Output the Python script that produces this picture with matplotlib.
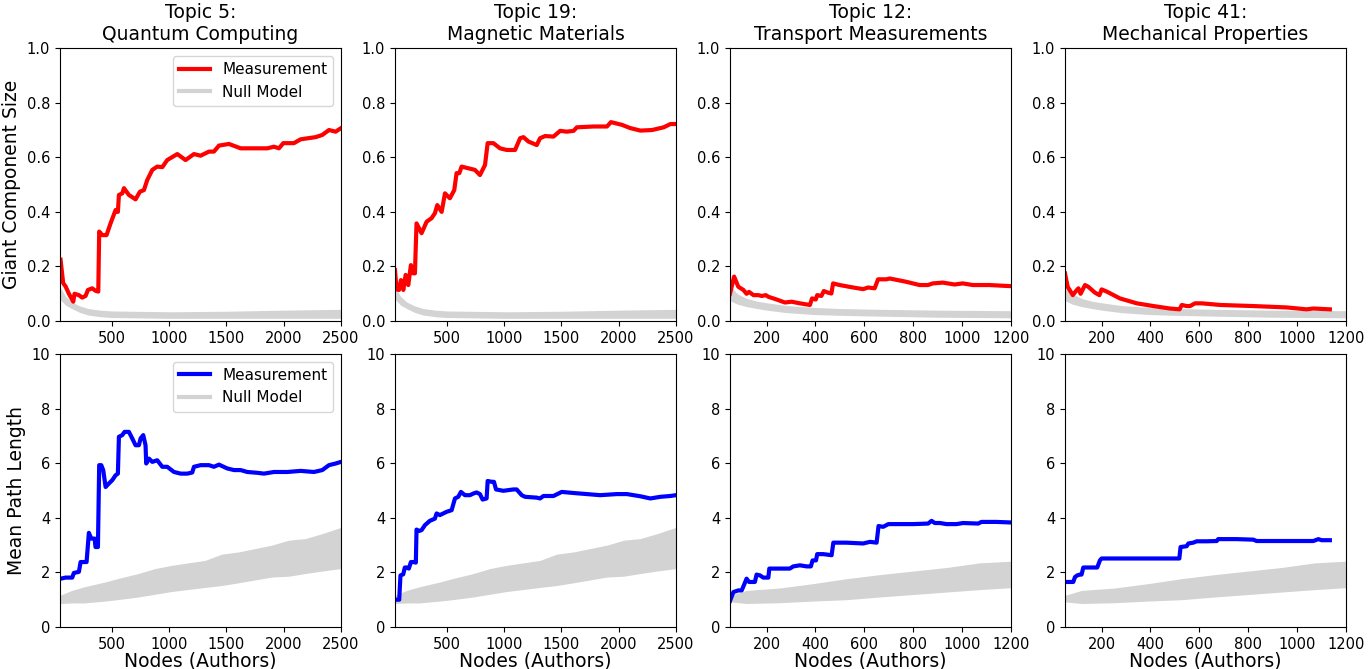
import numpy as np
import matplotlib.pyplot as plt

titles = ['Topic 5:\nQuantum Computing', 'Topic 19:\nMagnetic Materials',
          'Topic 12:\nTransport Measurements', 'Topic 41:\nMechanical Properties']
x_max = [2500, 2500, 1200, 1200]

# giant component size (measurement)
gc_x5 = [55, 78, 99, 128, 166, 177, 215, 244, 273, 294, 331, 360, 384, 392, 419, 456, 491, 535, 555, 564,
         593, 608, 651, 709, 747, 782, 811, 855, 898, 942, 985, 1073, 1145, 1218, 1276, 1349, 1392, 1436,
         1523, 1625, 1741, 1858, 1916, 1959, 1997, 2090, 2148, 2279, 2337, 2395, 2453, 2500]
gc_y5 = [0.225, 0.139, 0.127, 0.10, 0.071, 0.10, 0.095, 0.086, 0.092, 0.114, 0.12, 0.111, 0.108, 0.328,
         0.315, 0.315, 0.358, 0.407, 0.40, 0.462, 0.468, 0.487, 0.462, 0.446, 0.474, 0.48, 0.517, 0.554,
         0.566, 0.564, 0.59, 0.612, 0.59, 0.612, 0.606, 0.621, 0.621, 0.643, 0.649, 0.633, 0.633, 0.633,
         0.639, 0.633, 0.652, 0.652, 0.666, 0.674, 0.682, 0.70, 0.694, 0.707]

gc_x19 = [50, 64, 85, 102, 123, 143, 166, 189, 209, 224, 238, 282, 326, 369, 398, 419, 457, 486, 529, 567,
          587, 611, 631, 689, 747, 791, 835, 858, 908, 966, 1024, 1097, 1141, 1170, 1213, 1286, 1315, 1359,
          1432, 1490, 1548, 1607, 1636, 1781, 1898, 1933, 2029, 2102, 2189, 2291, 2393, 2451, 2500]
gc_y19 = [0.187, 0.116, 0.114, 0.15, 0.114, 0.169, 0.132, 0.205, 0.175, 0.175, 0.358, 0.322, 0.364, 0.377,
          0.395, 0.425, 0.40, 0.468, 0.45, 0.48, 0.542, 0.542, 0.566, 0.56, 0.554, 0.535, 0.572, 0.652,
          0.652, 0.633, 0.627, 0.627, 0.67, 0.674, 0.658, 0.645, 0.67, 0.678, 0.676, 0.697, 0.694, 0.697,
          0.71, 0.713, 0.713, 0.729, 0.719, 0.707, 0.698, 0.70, 0.71, 0.722, 0.722]

gc_x12 = [50, 67, 84, 105, 118, 128, 146, 166, 180, 197, 207, 241, 275, 302, 336, 377, 386, 401, 407, 424,
          434, 452, 465, 472, 499, 554, 595, 615, 642, 656, 690, 704, 771, 826, 860, 880, 921, 969, 1003,
          1044, 1112, 1197]
gc_y12 = [0.10, 0.163, 0.126, 0.114, 0.10, 0.107, 0.095, 0.095, 0.092, 0.095, 0.089, 0.079, 0.068, 0.071,
          0.065, 0.059, 0.083, 0.079, 0.095, 0.092, 0.11, 0.104, 0.101, 0.138, 0.132, 0.123, 0.117, 0.123,
          0.12, 0.153, 0.153, 0.156, 0.144, 0.132, 0.132, 0.138, 0.141, 0.134, 0.138, 0.132, 0.132, 0.128]

gc_x41 = [50, 61, 82, 95, 105, 114, 132, 145, 173, 191, 200, 221, 275, 344, 412, 480, 519, 528, 548, 562,
          582, 610, 685, 821, 957, 1039, 1066, 1134]
gc_y41 = [0.175, 0.126, 0.095, 0.11, 0.12, 0.10, 0.132, 0.126, 0.104, 0.095, 0.116, 0.108, 0.083, 0.065,
          0.055, 0.046, 0.043, 0.059, 0.055, 0.055, 0.065, 0.065, 0.059, 0.055, 0.050, 0.043, 0.046, 0.043]

# mean path length (measurement)
pl_x5 = [55, 99, 157, 171, 215, 230, 282, 302, 323, 352, 360, 381, 392, 410, 427, 448, 477, 506, 535, 555,
         564, 593, 613, 651, 680, 709, 738, 753, 776, 796, 802, 826, 855, 898, 942, 985, 1044, 1102, 1160,
         1203, 1218, 1276, 1349, 1392, 1436, 1508, 1567, 1625, 1683, 1770, 1828, 1916, 2032, 2148, 2264,
         2337, 2395, 2453, 2500]
pl_y5 = [1.77, 1.81, 1.81, 1.98, 2.02, 2.38, 2.38, 3.45, 3.24, 3.24, 2.93, 2.93, 5.93, 5.93, 5.75, 5.13,
         5.26, 5.38, 5.56, 5.62, 6.97, 7.03, 7.15, 7.15, 6.91, 6.66, 6.66, 6.91, 7.03, 6.66, 5.99, 6.17,
         6.05, 6.11, 5.87, 5.87, 5.68, 5.62, 5.62, 5.66, 5.87, 5.93, 5.93, 5.87, 5.95, 5.81, 5.75, 5.75,
         5.68, 5.65, 5.62, 5.68, 5.68, 5.72, 5.68, 5.75, 5.93, 5.99, 6.05]

pl_x19 = [50, 87, 98, 122, 136, 151, 171, 189, 209, 232, 238, 261, 282, 311, 354, 398, 413, 442, 500, 544,
          573, 602, 625, 660, 704, 733, 762, 791, 814, 849, 858, 893, 913, 931, 995, 1082, 1111, 1155, 1184,
          1286, 1315, 1344, 1432, 1504, 1606, 1723, 1839, 1985, 2072, 2189, 2276, 2363, 2450, 2500]
pl_y19 = [1.0, 1.0, 1.89, 1.93, 2.18, 2.18, 2.14, 2.38, 2.38, 2.36, 3.57, 3.52, 3.55, 3.73, 3.89, 3.97,
          4.16, 4.1, 4.22, 4.28, 4.71, 4.77, 4.95, 4.83, 4.83, 4.89, 4.93, 4.87, 4.67, 4.71, 5.35, 5.32,
          5.32, 5.04, 4.99, 5.04, 5.04, 4.83, 4.77, 4.74, 4.71, 4.8, 4.8, 4.95, 4.91, 4.87, 4.83, 4.87,
          4.87, 4.79, 4.71, 4.77, 4.8, 4.83]

pl_x12 = [50, 64, 84, 98, 107, 118, 128, 152, 159, 173, 186, 207, 211, 255, 295, 309, 336, 364, 381, 388,
          402, 407, 432, 466, 473, 527, 595, 623, 650, 658, 677, 698, 800, 861, 875, 888, 909, 936, 977,
          1004, 1066, 1079, 1141, 1199]
pl_y12 = [0.95, 1.28, 1.34, 1.34, 1.53, 1.77, 1.65, 1.65, 1.92, 1.89, 1.81, 1.81, 2.14, 2.14, 2.14, 2.22,
          2.26, 2.22, 2.22, 2.44, 2.44, 2.67, 2.67, 2.63, 3.09, 3.09, 3.06, 3.12, 3.09, 3.70, 3.67, 3.77,
          3.77, 3.79, 3.89, 3.81, 3.81, 3.77, 3.77, 3.81, 3.79, 3.85, 3.85, 3.83]

pl_x41 = [53, 84, 91, 100, 111, 118, 125, 182, 193, 200, 411, 518, 523, 548, 555, 575, 589, 630, 671, 677,
          753, 821, 834, 957, 1066, 1087, 1100, 1134]
pl_y41 = [1.65, 1.65, 1.83, 1.89, 1.92, 1.92, 2.18, 2.18, 2.44, 2.51, 2.51, 2.51, 2.93, 2.96, 3.06, 3.09,
          3.14, 3.14, 3.15, 3.22, 3.22, 3.2, 3.15, 3.15, 3.15, 3.22, 3.18, 3.18]

# null model bands
null_gc_x_long = [50, 100, 152, 220, 296, 400, 500, 1024, 1500, 2000, 2500]
null_gc_hi_long = [0.125, 0.09, 0.07, 0.056, 0.046, 0.040, 0.037, 0.034, 0.036, 0.040, 0.043]
null_gc_lo_long = [0.08, 0.058, 0.046, 0.032, 0.022, 0.016, 0.013, 0.010, 0.010, 0.010, 0.010]

null_gc_x_short = [50, 80, 118, 160, 200, 280, 391, 500, 664, 900, 1200]
null_gc_hi_short = [0.13, 0.10, 0.083, 0.073, 0.067, 0.057, 0.050, 0.046, 0.043, 0.040, 0.038]
null_gc_lo_short = [0.075, 0.062, 0.053, 0.046, 0.040, 0.031, 0.024, 0.021, 0.018, 0.014, 0.012]

null_pl_x_long = [50, 152, 259, 443, 549, 734, 878, 1024, 1315, 1461, 1607, 1898, 2044, 2189, 2335, 2500]
null_pl_hi_long = [1.16, 1.34, 1.47, 1.65, 1.77, 1.96, 2.14, 2.26, 2.44, 2.67, 2.75, 3.0, 3.18, 3.24, 3.42, 3.65]
null_pl_lo_long = [0.86, 0.88, 0.88, 0.95, 1.0, 1.1, 1.2, 1.3, 1.45, 1.52, 1.62, 1.83, 1.86, 1.96, 2.05, 2.14]

null_pl_x_short = [50, 118, 255, 391, 527, 664, 800, 936, 1073, 1199]
null_pl_hi_short = [1.16, 1.34, 1.43, 1.59, 1.77, 1.92, 2.05, 2.18, 2.35, 2.41]
null_pl_lo_short = [0.92, 0.86, 0.89, 0.95, 1.0, 1.1, 1.19, 1.28, 1.37, 1.44]

gc_data = [(gc_x5, gc_y5), (gc_x19, gc_y19), (gc_x12, gc_y12), (gc_x41, gc_y41)]
pl_data = [(pl_x5, pl_y5), (pl_x19, pl_y19), (pl_x12, pl_y12), (pl_x41, pl_y41)]
null_gc = [(null_gc_x_long, null_gc_lo_long, null_gc_hi_long)] * 2 + \
          [(null_gc_x_short, null_gc_lo_short, null_gc_hi_short)] * 2
null_pl = [(null_pl_x_long, null_pl_lo_long, null_pl_hi_long)] * 2 + \
          [(null_pl_x_short, null_pl_lo_short, null_pl_hi_short)] * 2

fig, axs = plt.subplots(2, 4, figsize=(13.69, 6.69), dpi=100)
plt.subplots_adjust(left=0.0438, right=0.9832, top=0.928, bottom=0.0628, wspace=0.192, hspace=0.121)

for i in range(4):
    # top row: giant component size
    ax = axs[0, i]
    nx, nlo, nhi = null_gc[i]
    ax.fill_between(nx, nlo, nhi, color='lightgray', lw=0)
    ax.plot(gc_data[i][0], gc_data[i][1], color='red', lw=3, label='Measurement')
    ax.plot([], [], color='lightgray', lw=3, label='Null Model')
    ax.set_xlim(50, x_max[i])
    ax.set_ylim(0, 1)
    ax.set_yticks(np.arange(0, 1.01, 0.2))
    ax.set_title(titles[i], fontsize=13.5)
    ax.tick_params(labelsize=10.5)
    if x_max[i] == 2500:
        ax.set_xticks([500, 1000, 1500, 2000, 2500])
    else:
        ax.set_xticks([200, 400, 600, 800, 1000, 1200])

    # bottom row: mean path length
    ax = axs[1, i]
    nx, nlo, nhi = null_pl[i]
    ax.fill_between(nx, nlo, nhi, color='lightgray', lw=0)
    ax.plot(pl_data[i][0], pl_data[i][1], color='blue', lw=3, label='Measurement')
    ax.plot([], [], color='lightgray', lw=3, label='Null Model')
    ax.set_xlim(50, x_max[i])
    ax.set_ylim(0, 10)
    ax.set_yticks([0, 2, 4, 6, 8, 10])
    ax.set_xlabel('Nodes (Authors)', fontsize=13.5, labelpad=0)
    ax.tick_params(labelsize=10.5)
    if x_max[i] == 2500:
        ax.set_xticks([500, 1000, 1500, 2000, 2500])
    else:
        ax.set_xticks([200, 400, 600, 800, 1000, 1200])

axs[0, 0].set_ylabel('Giant Component Size', fontsize=13.5)
axs[1, 0].set_ylabel('Mean Path Length', fontsize=13.5)
axs[0, 0].legend(loc='upper right', fontsize=11)
axs[1, 0].legend(loc='upper right', fontsize=11)

plt.savefig('out.png', dpi=100)
